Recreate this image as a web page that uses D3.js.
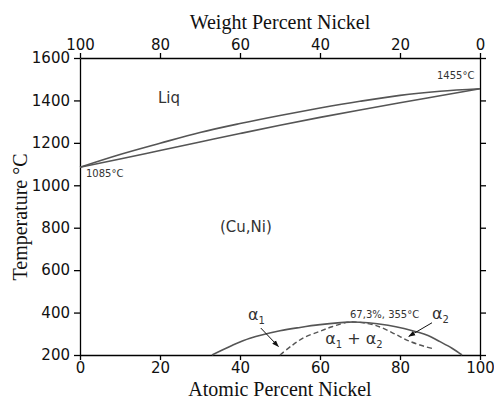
<!DOCTYPE html>
<html>
<head>
<meta charset="utf-8">
<script src="https://cdn.jsdelivr.net/npm/d3@7"></script>
<style>
  body { margin: 0; background: #fff; }
  .axis path, .axis line { stroke: #000; stroke-width: 1.3; }
  .axis text { font-family: "DejaVu Sans", Verdana, sans-serif; font-size: 15px; fill: #111; }
  .title { font-family: "Liberation Serif", "Times New Roman", serif; font-size: 20px; fill: #111; }
  .note { font-family: "DejaVu Sans", Verdana, sans-serif; fill: #333; }
</style>
</head>
<body>
<svg id="chart"></svg>
<script>
// atomic % Ni vs temperature (C)
var liquidus = [[0,1085],[10,1145],[20,1198],[30,1249],[40,1291],[50,1329],[60,1364],[70,1396],[80,1424],[90,1443],[100,1455]];
var solidus  = [[0,1085],[10,1124],[20,1164],[30,1204],[40,1244],[50,1283],[60,1320],[70,1355],[80,1389],[90,1422],[100,1455]];
var binodal  = [[33,200],[38,245],[42.5,279],[50,314],[55,330],[60,343],[67.3,355],[72,352],[77,340],[81,325],[84,310],[87,292],[90,263],[93,232],[95.5,200]];
var spinodal = [[50,200],[53,245],[56,282],[60,312],[63,333],[67.3,355],[72,348],[75,332],[78,306],[80,287],[82,268],[85,247],[88,231]];

var atomicTicks = [0,20,40,60,80,100];
var weightTicks = [100,80,60,40,20,0];
var tempTicks = [200,400,600,800,1000,1200,1400,1600];

var W = 494, H = 399;
var margin = {top: 58, right: 14, bottom: 44, left: 80};

var svg = d3.select("#chart").attr("width", W).attr("height", H);

var x = d3.scaleLinear().domain([0,100]).range([margin.left, W - margin.right]);
var xw = d3.scaleLinear().domain([100,0]).range([margin.left, W - margin.right]);
var y = d3.scaleLinear().domain([200,1600]).range([H - margin.bottom, margin.top]);

var defs = svg.append("defs");
defs.append("marker")
  .attr("id", "arr")
  .attr("viewBox", "0 0 10 10")
  .attr("refX", 9).attr("refY", 5)
  .attr("markerWidth", 7).attr("markerHeight", 7)
  .attr("markerUnits", "userSpaceOnUse")
  .attr("orient", "auto")
  .append("path").attr("d", "M0,1.5L10,5L0,8.5Z").attr("fill", "#111");

var fmt = d3.format("d");

// axes
svg.append("g").attr("class", "axis")
  .attr("transform", "translate(0," + y(200) + ")")
  .call(d3.axisBottom(x).tickValues(atomicTicks).tickFormat(fmt).tickSize(5).tickSizeOuter(0).tickPadding(2));

svg.append("g").attr("class", "axis")
  .attr("transform", "translate(0," + y(1600) + ")")
  .call(d3.axisTop(xw).tickValues(weightTicks).tickFormat(fmt).tickSize(5).tickSizeOuter(0).tickPadding(3));

svg.append("g").attr("class", "axis")
  .attr("transform", "translate(" + x(0) + ",0)")
  .call(d3.axisLeft(y).tickValues(tempTicks).tickFormat(fmt).tickSize(6).tickSizeOuter(0).tickPadding(4));

svg.append("g").attr("class", "axis")
  .attr("transform", "translate(" + x(100) + ",0)")
  .call(d3.axisRight(y).tickValues(tempTicks).tickSize(6).tickSizeOuter(0).tickFormat(""));

// titles
svg.append("text").attr("class", "title")
  .attr("x", (x(0) + x(100)) / 2).attr("y", 29)
  .attr("text-anchor", "middle").text("Weight Percent Nickel");
svg.append("text").attr("class", "title")
  .attr("x", (x(0) + x(100)) / 2).attr("y", 396)
  .attr("text-anchor", "middle").text("Atomic Percent Nickel");
svg.append("text").attr("class", "title")
  .attr("transform", "translate(27," + 217 + ") rotate(-90)")
  .attr("text-anchor", "middle").text("Temperature °C");

// curves
var line = d3.line().x(d => x(d[0])).y(d => y(d[1])).curve(d3.curveMonotoneX);
var line2 = d3.line().x(d => x(d[0])).y(d => y(d[1])).curve(d3.curveCatmullRom);

svg.append("path").datum(liquidus).attr("d", line)
  .attr("fill", "none").attr("stroke", "#555").attr("stroke-width", 1.6);
svg.append("path").datum(solidus).attr("d", line)
  .attr("fill", "none").attr("stroke", "#555").attr("stroke-width", 1.6);
svg.append("path").datum(binodal).attr("d", line2)
  .attr("fill", "none").attr("stroke", "#555").attr("stroke-width", 1.6);
svg.append("path").datum(spinodal).attr("d", line2)
  .attr("fill", "none").attr("stroke", "#555").attr("stroke-width", 1.4)
  .attr("stroke-dasharray", "5,3");

// labels
function note(tx, ty, size, str, anchor) {
  return svg.append("text").attr("class", "note")
    .attr("x", tx).attr("y", ty).attr("font-size", size)
    .attr("text-anchor", anchor || "start").text(str);
}
note(x(19.5), y(1390), 15, "Liq");
note(x(35), y(778), 15, "(Cu,Ni)");
note(x(1.5), y(1040), 10, "1085°C");
note(x(98.6), y(1500), 10, "1455°C", "end");
note(x(67.5), y(374), 10, "67,3%, 355°C");

function alpha(tx, ty, sub) {
  var t = svg.append("text").attr("class", "note")
    .attr("x", tx).attr("y", ty).attr("font-size", 16);
  t.append("tspan").text("α");
  t.append("tspan").attr("font-size", 10).attr("dy", 4).text(sub);
  return t;
}
alpha(x(42), y(366), "1");
alpha(x(88), y(370), "2");

var mix = svg.append("text").attr("class", "note")
  .attr("x", x(61.3)).attr("y", y(250)).attr("font-size", 16);
mix.append("tspan").text("α");
mix.append("tspan").attr("font-size", 10).attr("dy", 4).text("1");
mix.append("tspan").attr("dy", -4).text(" + α");
mix.append("tspan").attr("font-size", 10).attr("dy", 4).text("2");

// arrows
svg.append("line")
  .attr("x1", x(45.2)).attr("y1", y(327)).attr("x2", x(49.6)).attr("y2", y(240))
  .attr("stroke", "#111").attr("stroke-width", 1).attr("marker-end", "url(#arr)");
svg.append("line")
  .attr("x1", x(88)).attr("y1", y(352)).attr("x2", x(82.2)).attr("y2", y(288))
  .attr("stroke", "#111").attr("stroke-width", 1).attr("marker-end", "url(#arr)");
</script>
</body>
</html>
